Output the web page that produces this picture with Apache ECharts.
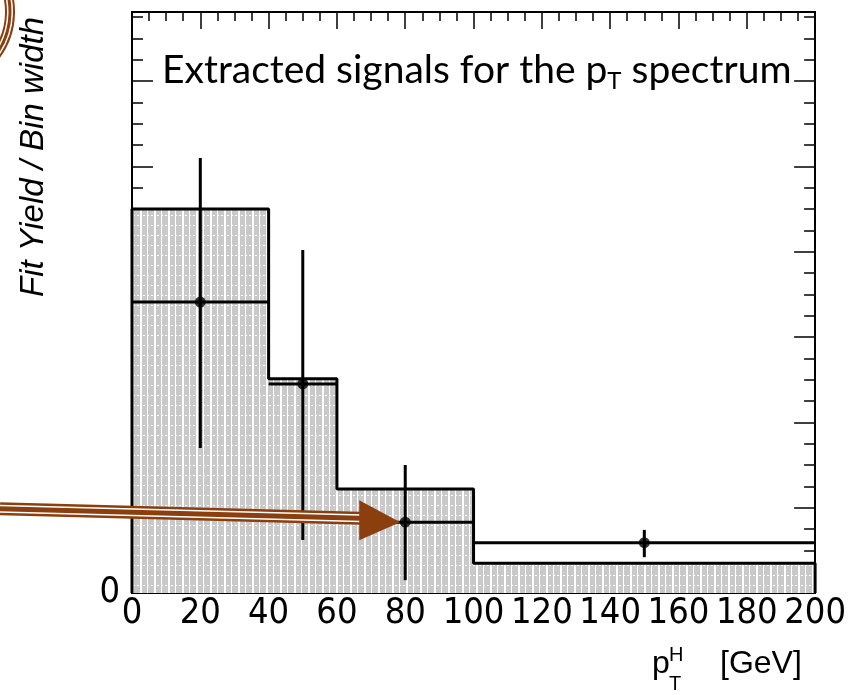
<!DOCTYPE html>
<html><head><meta charset="utf-8">
<script src="https://cdn.jsdelivr.net/npm/echarts@6/dist/echarts.min.js"></script>
<style>html,body{margin:0;padding:0;background:#fff}#c{width:849px;height:695px}</style>
</head><body><div id="c"></div>
<script>
// ---- data ----
const binEdges = [0, 40, 60, 100, 200];
const histHeights = [45.0, 25.1, 12.2, 3.5];
const pointX = [20, 50, 80, 150];
const pointY = [34.1, 24.5, 8.3, 5.9];
const errLow = [17.1, 18.3, 6.8, 1.7];
const errHigh = [16.9, 15.7, 6.7, 1.5];
const xTickLabels = ['0','20','40','60','80','100','120','140','160','180','200'];
const yTickLabels = ['0'];

// ---- pattern ----
function makePattern(){
  const c = document.createElement('canvas'); c.width = 14; c.height = 10;
  const g = c.getContext('2d');
  g.fillStyle = '#c9c9c9'; g.fillRect(0,0,14,10);
  g.fillStyle = '#ffffff'; g.fillRect(0,0,2,10);
  g.fillStyle = '#ffffff'; g.fillRect(7,0,1,10);
  for (let x = 3; x < 14; x += 4) g.fillRect(x, 5, 2, 1);
  return c;
}

const histData = [[binEdges[0], 0]];
histHeights.forEach((h, i) => { histData.push([binEdges[i], h]); histData.push([binEdges[i+1], h]); });
histData.push([binEdges[binEdges.length-1], 0]);

const errData = pointX.map((x, i) => [x, pointY[i], pointY[i]-errLow[i], pointY[i]+errHigh[i], binEdges[i], binEdges[i+1]]);

const FONT = '"Liberation Sans Narrow", "Arial Narrow", "DejaVu Sans Condensed", sans-serif';
const yMax = 68.1;
function xAx(pos, labels){
  return {type:'value', position:pos, min:0, max:200, interval:20,
    axisLine:{show:true, onZero:false, lineStyle:{color:'#000', width:2}},
    axisTick:{show:true, inside:true, length:17, lineStyle:{color:'#000', width:1.5}},
    minorTick:{show:true, splitNumber:4, length:9, lineStyle:{color:'#000', width:1.5}},
    axisLabel:{show:labels, color:'#000', fontFamily:FONT, fontSize:36, margin:3, formatter:(v)=>xTickLabels[Math.round(v/20)] || ''},
    splitLine:{show:false}, minorSplitLine:{show:false}};
}
function yAx(pos, interval, len, labels){
  return {type:'value', position:pos, min:0, max:yMax, interval:interval,
    axisLine:{show:true, onZero:false, lineStyle:{color:'#000', width:2}},
    axisTick:{show:true, inside:true, length:len, lineStyle:{color:'#000', width:1.5}},
    axisLabel:{show:labels, color:'#000', fontFamily:FONT, fontSize:36, margin:12, formatter:(v)=> v===0 ? yTickLabels[0] : ''},
    splitLine:{show:false}};
}

const chart = echarts.init(document.getElementById('c'), null, {renderer:'canvas'});
chart.setOption({
  animation:false,
  backgroundColor:'#fff',
  grid:{left:132, top:12, width:686, height:581, containLabel:false},
  xAxis:[xAx('bottom', true), xAx('top', false)],
  yAxis:[yAx('left',10,21,true), yAx('left',2.5,11,false), yAx('right',10,21,false), yAx('right',2.5,11,false)],
  series:[
    {type:'line', data:histData, symbol:'none', z:2,
     lineStyle:{color:'#000', width:3}, areaStyle:{color:{image:makePattern(), repeat:'repeat'}, opacity:1}},
    {type:'custom', data:errData, z:4,
     renderItem:(params, api)=>{
       const c = api.coord([api.value(0), api.value(1)]);
       const lo = api.coord([api.value(0), api.value(2)]);
       const hi = api.coord([api.value(0), api.value(3)]);
       const l = api.coord([api.value(4), api.value(1)]);
       const r = api.coord([api.value(5), api.value(1)]);
       const st = {stroke:'#000', lineWidth:3};
       return {type:'group', children:[
         {type:'line', shape:{x1:c[0], y1:lo[1], x2:c[0], y2:hi[1]}, style:st},
         {type:'line', shape:{x1:l[0], y1:c[1], x2:r[0], y2:c[1]}, style:st}
       ]};
     }},
    {type:'scatter', data:pointX.map((x,i)=>[x, pointY[i]]), symbol:'circle', symbolSize:11, z:5,
     itemStyle:{color:'#000'}}
  ]
});

const tip = chart.convertToPixel({gridIndex:0}, [pointX[2], pointY[2]]);
const BROWN = '#8B3F0E';
const tx = tip[0]-5, ty = tip[1];
const shaft = {x1:0, y1:ty-13.5, x2:tx-40, y2:ty-4};
const arcShape = {cx:-62, cy:12, r:72, startAngle:-0.6, endAngle:0.65, clockwise:true};
chart.setOption({graphic:[
  {type:'line', z:100, shape:shaft, style:{stroke:BROWN, lineWidth:13}},
  {type:'line', z:101, shape:shaft, style:{stroke:'#fff', lineWidth:8}},
  {type:'line', z:102, shape:shaft, style:{stroke:BROWN, lineWidth:5}},
  {type:'polygon', z:103, shape:{points:[[tx-41, ty-22],[tx, ty],[tx-41, ty+18]]}, style:{fill:BROWN}},
  {type:'arc', z:100, shape:arcShape, style:{stroke:BROWN, lineWidth:10, fill:null}},
  {type:'arc', z:101, shape:arcShape, style:{stroke:'#fff', lineWidth:6, fill:null}},
  {type:'arc', z:102, shape:arcShape, style:{stroke:BROWN, lineWidth:3, fill:null}},
  {type:'text', z:110, x:162, y:70, style:{
     text:'{a|Extracted signals for the p}{s|T}{a| spectrum}', verticalAlign:'middle', align:'left',
     rich:{a:{fontFamily:'Lato, Open Sans, sans-serif', fontSize:39, fill:'#000'},
           s:{fontFamily:'Lato, Open Sans, sans-serif', fontSize:24, fill:'#000', padding:[22,0,0,0]}}}},
  {type:'text', z:110, x:34, y:17, rotation:Math.PI/2, style:{
     text:'Fit Yield / Bin width', font:'italic 33px Liberation Sans, Arial, sans-serif', fill:'#000',
     align:'right', verticalAlign:'middle'}},
  {type:'text', z:110, x:652, y:664, style:{text:'p', font:'32px Liberation Sans, Arial, sans-serif', fill:'#000', align:'left', verticalAlign:'middle'}},
  {type:'text', z:110, x:669, y:655, style:{text:'H', font:'20px Liberation Sans, Arial, sans-serif', fill:'#000', align:'left', verticalAlign:'middle'}},
  {type:'text', z:110, x:669, y:684, style:{text:'T', font:'20px Liberation Sans, Arial, sans-serif', fill:'#000', align:'left', verticalAlign:'middle'}},
  {type:'text', z:110, x:720, y:664, style:{text:'[GeV]', font:'32px Liberation Sans, Arial, sans-serif', fill:'#000', align:'left', verticalAlign:'middle'}}
]});
</script></body></html>
